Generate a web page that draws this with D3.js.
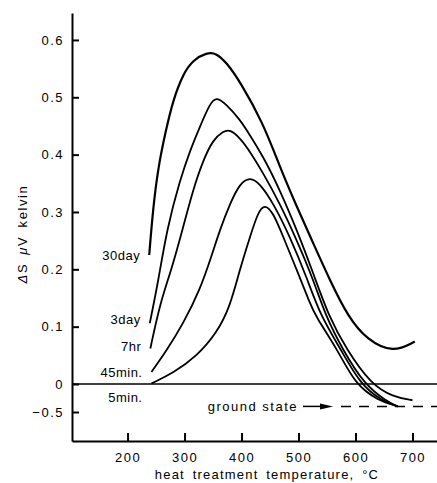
<!DOCTYPE html>
<html>
<head>
<meta charset="utf-8">
<script src="https://cdn.jsdelivr.net/npm/d3@7"></script>
<style>
  body { margin: 0; background: #fff; }
  svg text { font-family: "Liberation Sans", Arial, sans-serif; fill: #000; }
</style>
</head>
<body>
<div id="chart"></div>
<script>
// curve names, top to bottom
const curveNames = ["30day", "3day", "7hr", "45min.", "5min."];

// [temperature °C, ΔS µV/K]
const day30 = [[238, 0.225], [245, 0.309], [254, 0.379], [266, 0.437], [280, 0.496], [298, 0.542],
  [315, 0.565], [339, 0.578], [356, 0.577], [374, 0.56], [397, 0.528], [438, 0.455],
  [467, 0.379], [497, 0.309], [526, 0.245], [555, 0.181], [587, 0.117], [620, 0.077],
  [666, 0.054], [704, 0.074]];
const day3 = [[239, 0.106], [254, 0.18], [269, 0.27], [292, 0.356], [310, 0.408], [327, 0.449],
  [345, 0.49], [356, 0.501], [374, 0.487], [397, 0.461], [409, 0.443], [438, 0.397],
  [467, 0.339], [497, 0.269], [526, 0.193], [552, 0.12], [585, 0.059], [627, 0],
  [666, -0.23], [700, -0.29]];
const hr7 = [[240, 0.062], [257, 0.141], [277, 0.199], [298, 0.275], [315, 0.339], [333, 0.391],
  [350, 0.426], [368, 0.441], [380, 0.444], [397, 0.429], [409, 0.414], [438, 0.368],
  [467, 0.315], [497, 0.251], [526, 0.182], [547, 0.12], [578, 0.059], [615, 0],
  [653, -0.3], [674, -0.4]];
const min45 = [[242, 0.021], [269, 0.059], [298, 0.106], [327, 0.164], [347, 0.222], [362, 0.269],
  [380, 0.315], [397, 0.35], [415, 0.361], [432, 0.35], [456, 0.315], [485, 0.257],
  [514, 0.187], [538, 0.12], [575, 0.059], [608, 0], [646, -0.3], [674, -0.4]];
const min5 = [[242, 0.001], [280, 0.019], [321, 0.048], [356, 0.088], [380, 0.135], [397, 0.2],
  [415, 0.257], [429, 0.3], [441, 0.314], [456, 0.298], [473, 0.257], [497, 0.199],
  [520, 0.141], [530, 0.118], [569, 0.059], [599, 0], [640, -0.3], [674, -0.4]];
const curves = [day30, day3, hr7, min45, min5];

const xTicks = [200, 300, 400, 500, 600, 700];
const yTicks = [-0.5, 0, 0.1, 0.2, 0.3, 0.4, 0.5, 0.6];
const groundState = -0.4;

const width = 437, height = 483;

const svg = d3.select("#chart").append("svg")
    .attr("width", width)
    .attr("height", height);

const x = d3.scaleLinear().domain([102.5, 743]).range([72, 437]);
// broken axis: below zero is squeezed
const y = d3.scaleLinear().domain([-1.018, -0.5, 0, 0.647]).range([441, 412, 384, 13]);

// axes
svg.append("g")
    .attr("transform", "translate(72,0)")
    .call(d3.axisLeft(y).tickValues(yTicks).tickSizeInner(-7).tickSizeOuter(0).tickPadding(8)
      .tickFormat(d => d === 0 ? "0" : d < 0 ? "\u22120.5" : d.toFixed(1)));

svg.append("g")
    .attr("transform", "translate(0,441)")
    .call(d3.axisBottom(x).tickValues(xTicks).tickSizeInner(-8).tickSizeOuter(0).tickPadding(12));

svg.selectAll(".domain").attr("stroke", "#000").attr("stroke-width", 2);
svg.selectAll(".tick line").attr("stroke", "#000").attr("stroke-width", 2);
svg.selectAll(".tick text")
    .style("font-size", "13px")
    .style("letter-spacing", "1.5px");

// zero line
svg.append("line")
    .attr("x1", 72).attr("x2", width)
    .attr("y1", y(0)).attr("y2", y(0))
    .attr("stroke", "#000").attr("stroke-width", 1.5);

// curves (smoothed)
const line = d3.line()
    .x(d => x(d[0]))
    .y(d => y(d[1]))
    .curve(d3.curveBasis);

svg.selectAll(".curve")
    .data(curves)
    .enter().append("path")
    .attr("class", "curve")
    .attr("d", line)
    .attr("fill", "none")
    .attr("stroke", "#000")
    .attr("stroke-width", (d, i) => i === 0 ? 2.2 : 1.8);

// curve labels next to the start of each curve
const labelDy = [0, -4, -2, 0, 14];
svg.selectAll(".clabel")
    .data(curves)
    .enter().append("text")
    .attr("class", "clabel")
    .attr("x", d => x(d[0][0]) - 9)
    .attr("y", (d, i) => y(d[0][1]) + labelDy[i])
    .attr("dy", "0.35em")
    .attr("text-anchor", "end")
    .style("font-size", "13px")
    .style("letter-spacing", "0.5px")
    .text((d, i) => curveNames[i]);

// ground state
const gy = y(groundState);
svg.append("text")
    .attr("x", 298).attr("y", gy)
    .attr("dy", "0.35em")
    .attr("text-anchor", "end")
    .style("font-size", "13px")
    .style("letter-spacing", "1.5px")
    .text("ground state");

svg.append("line")
    .attr("x1", 303).attr("x2", 322)
    .attr("y1", gy).attr("y2", gy)
    .attr("stroke", "#000").attr("stroke-width", 1.5);
svg.append("path")
    .attr("d", `M320,${gy - 3}L333,${gy}L320,${gy + 3}Z`)
    .attr("fill", "#000");

svg.append("line")
    .attr("x1", 341).attr("x2", width)
    .attr("y1", gy).attr("y2", gy)
    .attr("stroke", "#000").attr("stroke-width", 1.5)
    .attr("stroke-dasharray", "10,8");

// axis titles
svg.append("text")
    .attr("x", 267).attr("y", 479)
    .attr("text-anchor", "middle")
    .style("font-size", "13px")
    .style("letter-spacing", "1.2px")
    .style("word-spacing", "3px")
    .text("heat treatment temperature, \u00b0C");

const yTitle = svg.append("text")
    .attr("transform", "translate(27,234) rotate(-90)")
    .attr("text-anchor", "middle")
    .style("font-size", "13px")
    .style("letter-spacing", "1.6px")
    .style("word-spacing", "3px");
yTitle.append("tspan").style("font-style", "italic").text("\u0394");
yTitle.append("tspan").text("S  ");
yTitle.append("tspan").style("font-style", "italic").text("\u03bc");
yTitle.append("tspan").text("V kelvin");
</script>
</body>
</html>
